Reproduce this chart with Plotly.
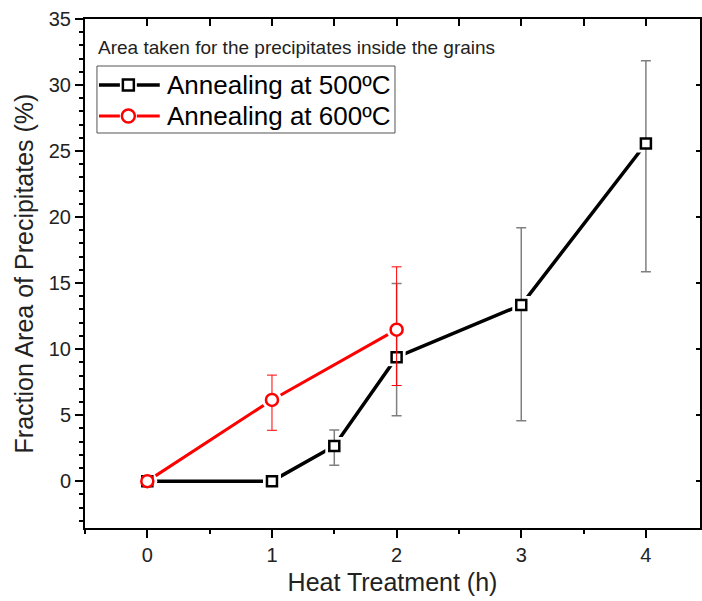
import plotly.graph_objects as go

# Annealing at 500 ºC
t500 = [0, 1, 1.5, 2, 3, 4]
area500 = [0.0, 0.0, 2.66, 9.39, 13.34, 25.57]
err500_up = [0.0, 0.0, 1.21, 5.57, 5.85, 6.27]
err500_dn = [0.0, 0.0, 1.45, 4.43, 8.76, 9.72]

# Annealing at 600 ºC
t600 = [0, 1, 2]
area600 = [0.0, 6.15, 11.47]
err600_up = [0.0, 1.88, 4.76]
err600_dn = [0.0, 2.30, 4.23]

x_ticks = [0, 1, 2, 3, 4]
y_ticks = [0, 5, 10, 15, 20, 25, 30, 35]

FONT = "Arial, Liberation Sans, sans-serif"
BLACK = "#000000"
RED = "#ff0000"
ERR_GREY = "#808080"

W, H = 702, 601
M_L, M_R, M_T, M_B = 85, 0, 19, 73
PW, PH = W - M_L - M_R, H - M_T - M_B


def px(x):
    return (x - M_L) / PW


def py(y):
    return (H - M_B - y) / PH


fig = go.Figure()


def add_lines(x, y, color, symbol, size, lw):
    fig.add_trace(go.Scatter(x=x, y=y, mode="lines", line=dict(color=color, width=lw),
                             showlegend=False, hoverinfo="skip"))
    # white halo so the connecting line stops short of each marker
    fig.add_trace(go.Scatter(x=x, y=y, mode="markers",
                             marker=dict(symbol=symbol, size=size + 8, color="white",
                                         line=dict(width=0)),
                             showlegend=False, hoverinfo="skip"))


def add_markers(x, y, up, dn, color, symbol, size, err_color, err_w):
    fig.add_trace(go.Scatter(
        x=x, y=y, mode="markers",
        marker=dict(symbol=symbol, size=size, color="white",
                    line=dict(color=color, width=2.5)),
        error_y=dict(type="data", symmetric=False, array=up, arrayminus=dn,
                     color=err_color, thickness=err_w, width=5),
        showlegend=False))


add_lines(t500, area500, BLACK, "square", 10, 3.5)
add_lines(t600, area600, RED, "circle", 12, 3)
add_markers(t500, area500, err500_up, err500_dn, BLACK, "square", 10, ERR_GREY, 1.5)
add_markers(t600, area600, err600_up, err600_dn, RED, "circle", 12, RED, 1)

# placeholder trace carrying the top/right tick axes
fig.add_trace(go.Scatter(x=[None], y=[None], xaxis="x2", yaxis="y2",
                         showlegend=False, hoverinfo="skip"))

# legend box drawn as layout shapes
shapes = [dict(type="rect", xref="paper", yref="paper",
               x0=px(97), x1=px(396), y0=py(66), y1=py(133),
               line=dict(color="#555555", width=1), fillcolor="white", layer="above")]
legend_rows = [("Annealing at 500ºC", BLACK, 3.5, "rect", 85),
               ("Annealing at 600ºC", RED, 3, "circle", 116)]
annotations = []
for label, color, lw, kind, yc in legend_rows:
    for a, b in ((99, 120), (137, 160)):
        shapes.append(dict(type="line", xref="paper", yref="paper",
                           x0=px(a), x1=px(b), y0=py(yc), y1=py(yc),
                           line=dict(color=color, width=lw), layer="above"))
    r = 5.5 if kind == "rect" else 6.5
    shapes.append(dict(type=kind, xref="paper", yref="paper",
                       x0=px(128.5 - r), x1=px(128.5 + r), y0=py(yc - r), y1=py(yc + r),
                       line=dict(color=color, width=2.5), fillcolor="white", layer="above"))
    annotations.append(dict(text=label, xref="paper", yref="paper",
                            x=px(165), y=py(yc), xanchor="left", yanchor="middle",
                            showarrow=False,
                            font=dict(family=FONT, size=26, color=BLACK)))

annotations.append(dict(text="Area taken for the precipitates inside the grains",
                        xref="paper", yref="paper", x=px(96), y=py(47),
                        xanchor="left", yanchor="middle", showarrow=False,
                        font=dict(family=FONT, size=19, color="#222222")))

x_range = [-0.5, 4.434]
y_range = [-3.55, 35]

fig.update_layout(
    width=W, height=H,
    margin=dict(l=M_L, r=M_R, t=M_T, b=M_B),
    paper_bgcolor="white", plot_bgcolor="white",
    font=dict(family=FONT, color=BLACK),
    showlegend=False,
    xaxis=dict(range=x_range, tickvals=x_ticks, ticktext=[str(v) for v in x_ticks],
               ticks="outside", ticklen=8, tickwidth=1.5, tickcolor=BLACK,
               minor=dict(dtick=0.5, tick0=0, ticks="outside", ticklen=4,
                          tickwidth=1.5, tickcolor=BLACK),
               showline=True, linecolor=BLACK, linewidth=2, mirror=True,
               showgrid=False, zeroline=False,
               tickfont=dict(family=FONT, size=20, color="#222222"),
               title=dict(text="Heat Treatment (h)", standoff=8,
                          font=dict(family=FONT, size=25, color="#222222"))),
    yaxis=dict(range=y_range, tickvals=y_ticks, ticktext=[str(v) for v in y_ticks],
               ticks="outside", ticklen=8, tickwidth=1.5, tickcolor=BLACK,
               minor=dict(dtick=1, tick0=0, ticks="outside", ticklen=4,
                          tickwidth=1.5, tickcolor=BLACK),
               showline=True, linecolor=BLACK, linewidth=2, mirror=True,
               showgrid=False, zeroline=False,
               tickfont=dict(family=FONT, size=20, color="#222222"),
               title=dict(text="Fraction Area of Precipitates (%)", standoff=8,
                          font=dict(family=FONT, size=25, color="#222222"))),
    xaxis2=dict(overlaying="x", side="top", range=x_range, dtick=0.5, tick0=0,
                ticks="inside", ticklen=7, tickwidth=1.5, tickcolor=BLACK,
                showticklabels=False, showgrid=False, zeroline=False, showline=False),
    yaxis2=dict(overlaying="y", side="right", range=y_range, dtick=5, tick0=0,
                ticks="inside", ticklen=4, tickwidth=1.5, tickcolor=BLACK,
                showticklabels=False, showgrid=False, zeroline=False, showline=False),
    shapes=shapes,
    annotations=annotations,
)

fig.write_html("out.html")
